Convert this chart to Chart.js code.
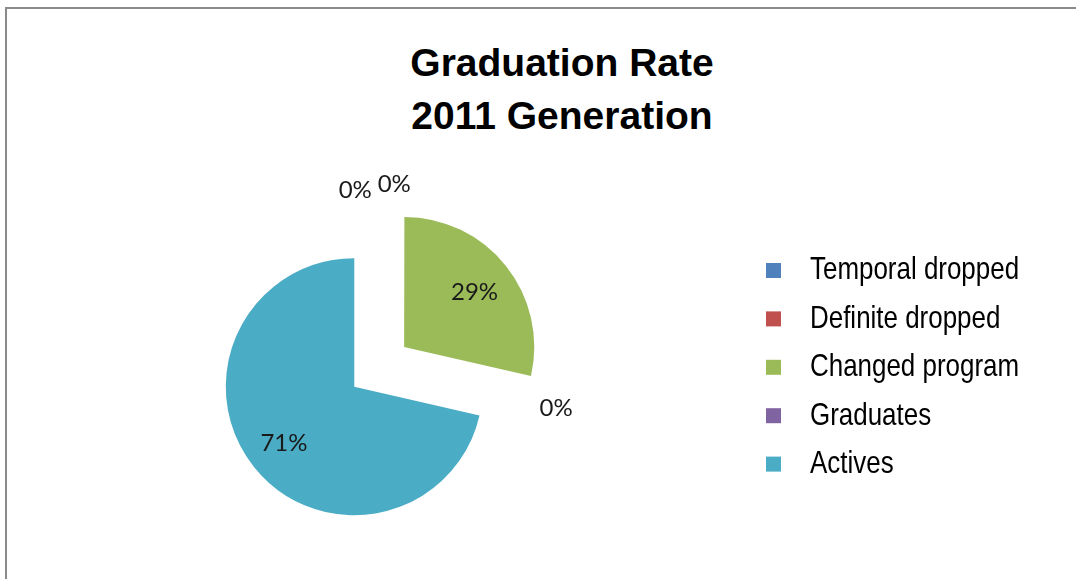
<!DOCTYPE html>
<html>
<head>
<meta charset="utf-8">
<script src="https://cdn.jsdelivr.net/npm/chart.js@4.4.1/dist/chart.umd.min.js"></script>
<style>
    html, body { margin: 0; padding: 0; background: #fff; }
    #wrap { position: relative; width: 1076px; height: 579px; overflow: hidden; }
    #frame {
        position: absolute; left: 5px; top: 7px; width: 2000px; height: 2000px;
        border-left: 2px solid #8a8a8a; border-top: 2px solid #8a8a8a;
    }
    #title {
        position: absolute; left: 0; top: 36px; width: 1124px; text-align: center;
        font: bold 39px "Liberation Sans", Arial, sans-serif; line-height: 53px; color: #000;
    }
    canvas { position: absolute; left: 0; top: 0; }
</style>
</head>
<body>
<div id="wrap">
    <div id="frame"></div>
    <div id="title">Graduation Rate<br>2011 Generation</div>
    <canvas id="gradChart" width="1076" height="579"></canvas>
</div>
<script>
const categories = ["Temporal dropped", "Definite dropped", "Changed program", "Graduates", "Actives"];
const shares = [0, 0, 28.6, 0, 71.4];
const sliceColors = ["#4F81BD", "#C0504D", "#9BBB59", "#8064A2", "#4BACC6"];

// Percent labels, inside the slices and outside for the empty ones
const sliceLabels = {
    id: "sliceLabels",
    afterDatasetsDraw(chart, args, opts) {
        const ctx = chart.ctx;
        const meta = chart.getDatasetMeta(0);
        const data = chart.data.datasets[0].data;
        const total = data.reduce((a, b) => a + b, 0);

        // Chart.js moves an arc by offset/4 along its middle angle
        const shifts = meta.data.map(arc => {
            const off = (arc.options.offset || 0) / 4;
            const mid = (arc.startAngle + arc.endAngle) / 2;
            return { x: Math.cos(mid) * off, y: Math.sin(mid) * off };
        });
        const filled = shifts.filter((s, i) => data[i] > 0);
        const midX = filled.reduce((a, s) => a + s.x, 0) / filled.length;
        const midY = filled.reduce((a, s) => a + s.y, 0) / filled.length;

        ctx.save();
        ctx.font = opts.font;
        ctx.fillStyle = opts.color;
        ctx.textAlign = "center";
        ctx.textBaseline = "alphabetic";
        meta.data.forEach((arc, i) => {
            const mid = (arc.startAngle + arc.endAngle) / 2;
            const text = Math.round(data[i] / total * 100) + "%";
            let x, y;
            if (data[i] > 0) {
                const d = arc.outerRadius * 0.7;
                x = arc.x + shifts[i].x + Math.cos(mid) * d;
                y = arc.y + shifts[i].y + Math.sin(mid) * d;
            } else {
                const d = arc.outerRadius + 53;
                const n = opts.nudge[i] || [0, 0];
                x = arc.x + midX + Math.cos(mid) * d + n[0];
                y = arc.y + midY + Math.sin(mid) * d + n[1];
            }
            ctx.fillText(text, x, y + opts.lift);
        });
        ctx.restore();
    }
};

// Legend on the right, narrow font like the original
const sideLegend = {
    id: "sideLegend",
    afterDraw(chart, args, opts) {
        const ctx = chart.ctx;
        const colors = chart.data.datasets[0].backgroundColor;
        ctx.save();
        chart.data.labels.forEach((label, i) => {
            const cy = opts.top + i * opts.pitch;
            ctx.fillStyle = colors[i];
            ctx.fillRect(opts.x, cy - opts.box / 2, opts.box, opts.box);
            ctx.save();
            ctx.translate(opts.textX, cy + opts.baseline);
            ctx.scale(opts.squeeze, 1);
            ctx.font = opts.font;
            ctx.fillStyle = "#000";
            ctx.textAlign = "left";
            ctx.textBaseline = "alphabetic";
            ctx.fillText(label, 0, 0);
            ctx.restore();
        });
        ctx.restore();
    }
};

new Chart(document.getElementById("gradChart"), {
    type: "pie",
    data: {
        labels: categories,
        datasets: [{
            data: shares,
            backgroundColor: sliceColors,
            borderWidth: 0,
            offset: [0, 0, 254.8, 0, 0]
        }]
    },
    options: {
        responsive: false,
        animation: false,
        radius: 128.5,
        layout: {
            padding: { left: 0, right: 367.4, top: 194.4, bottom: 0 }
        },
        plugins: {
            legend: { display: false },
            tooltip: { enabled: false },
            sliceLabels: {
                font: '24px Lato, "Noto Sans", sans-serif',
                color: "#1a1a1a",
                lift: 8.6,
                nudge: { 0: [-24, 4], 1: [15, -2] }
            },
            sideLegend: {
                x: 766, box: 15, top: 270.5, pitch: 48.4,
                textX: 810, baseline: 8.8, squeeze: 0.821,
                font: '31.6px "Liberation Sans", Arial, sans-serif'
            }
        }
    },
    plugins: [sliceLabels, sideLegend]
});
</script>
</body>
</html>
